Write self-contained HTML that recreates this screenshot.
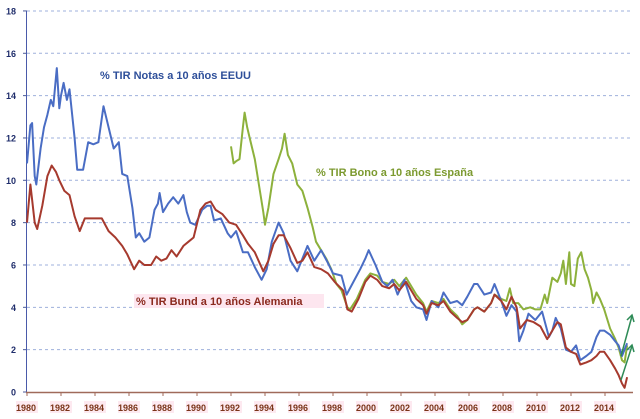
<!DOCTYPE html>
<html><head><meta charset="utf-8"><style>
body{margin:0;background:#fff}
svg{display:block;font-family:"Liberation Sans",sans-serif}
</style></head><body>
<svg id="c" width="640" height="419">
<g id="grid"></g>
<g id="yax"></g>
<g id="xax"></g>
<g id="series"></g>
<text x="100" y="79" font-size="11" font-weight="bold" fill="#2e4f9a">% TIR Notas a 10 años EEUU</text>
<text x="316" y="176" font-size="11" font-weight="bold" fill="#7c9a30">% TIR Bono a 10 años España</text>
<rect x="134" y="294" width="190" height="14" fill="#fde6ef"/>
<text x="136" y="305" font-size="11" font-weight="bold" fill="#8b2a1e">% TIR Bund a 10 años Alemania</text>
<g stroke="#2e8b57" stroke-width="1.5" fill="none">
<line x1="621" y1="356" x2="632" y2="316"/><path d="M627 320 L632 315 L634 322"/>
<line x1="621" y1="380" x2="632" y2="346"/><path d="M627 350 L632 345 L634 352"/>
</g>
</svg>
<script>
const usYears=[1980.0,1980.2,1980.3,1980.45,1980.55,1980.8,1981.0,1981.2,1981.4,1981.55,1981.75,1981.9,1982.0,1982.15,1982.35,1982.5,1982.8,1982.95,1983.3,1983.6,1983.9,1984.2,1984.5,1984.8,1985.1,1985.4,1985.6,1985.9,1986.2,1986.4,1986.6,1986.9,1987.2,1987.5,1987.7,1987.8,1988.0,1988.3,1988.6,1988.9,1989.2,1989.4,1989.6,1989.9,1990.3,1990.6,1990.8,1991.0,1991.4,1991.8,1992.0,1992.3,1992.7,1993.0,1993.4,1993.8,1994.1,1994.4,1994.8,1995.1,1995.5,1995.9,1996.2,1996.5,1996.9,1997.3,1997.7,1998.0,1998.5,1998.8,1999.2,1999.6,1999.9,2000.1,2000.5,2000.9,2001.2,2001.5,2001.8,2002.2,2002.6,2002.9,2003.3,2003.5,2003.8,2004.2,2004.5,2004.9,2005.3,2005.6,2005.9,2006.3,2006.5,2006.9,2007.3,2007.5,2007.9,2008.2,2008.5,2008.8,2008.95,2009.2,2009.5,2009.9,2010.3,2010.7,2010.9,2011.1,2011.4,2011.7,2012.0,2012.3,2012.55,2012.9,2013.2,2013.5,2013.7,2013.95,2014.3,2014.6,2014.8,2015.0,2015.1,2015.3];
const usValues=[10.8,12.6,12.7,10.2,9.8,11.5,12.5,13.1,13.8,13.5,15.3,13.4,14.0,14.6,13.8,14.3,12.0,10.5,10.5,11.8,11.7,11.8,13.5,12.5,11.5,11.8,10.3,10.2,8.7,7.3,7.5,7.1,7.3,8.6,8.9,9.4,8.5,8.9,9.2,8.9,9.3,8.5,8.0,7.9,8.6,8.8,8.8,8.1,8.2,7.5,7.3,7.6,6.6,6.6,5.9,5.3,5.8,7.1,8.0,7.5,6.2,5.7,6.3,6.9,6.2,6.7,6.1,5.6,5.5,4.6,5.2,5.8,6.3,6.7,6.0,5.2,5.0,5.3,4.6,5.3,4.3,4.0,3.9,3.4,4.3,4.0,4.7,4.2,4.3,4.1,4.5,5.1,5.1,4.6,4.7,5.1,4.3,3.6,4.1,3.8,2.4,2.9,3.7,3.4,3.8,2.6,2.9,3.5,3.0,2.0,1.9,2.2,1.5,1.7,1.9,2.6,2.9,2.9,2.7,2.4,2.2,1.7,1.9,2.3];
const deYears=[1980.0,1980.2,1980.45,1980.6,1980.9,1981.2,1981.45,1981.7,1981.9,1982.2,1982.5,1982.8,1983.1,1983.4,1983.7,1984.0,1984.4,1984.8,1985.2,1985.6,1985.9,1986.3,1986.6,1986.9,1987.3,1987.6,1987.9,1988.2,1988.5,1988.8,1989.2,1989.5,1989.8,1990.2,1990.5,1990.8,1991.1,1991.5,1991.9,1992.3,1992.7,1993.0,1993.4,1993.9,1994.2,1994.5,1994.8,1995.1,1995.5,1995.9,1996.2,1996.5,1996.9,1997.3,1997.7,1998.1,1998.6,1998.85,1999.1,1999.5,1999.9,2000.2,2000.6,2000.9,2001.3,2001.6,2001.9,2002.3,2002.6,2002.9,2003.3,2003.5,2003.8,2004.2,2004.5,2004.9,2005.3,2005.6,2005.9,2006.3,2006.5,2006.9,2007.3,2007.5,2007.9,2008.2,2008.5,2008.8,2009.0,2009.4,2009.8,2010.2,2010.6,2010.9,2011.2,2011.4,2011.7,2012.0,2012.3,2012.55,2012.9,2013.2,2013.5,2013.7,2013.95,2014.3,2014.6,2014.8,2015.0,2015.15,2015.3];
const deValues=[8.0,9.8,8.0,7.7,8.8,10.2,10.7,10.4,10.0,9.5,9.3,8.3,7.6,8.2,8.2,8.2,8.2,7.6,7.3,6.9,6.5,5.8,6.2,6.0,6.0,6.4,6.2,6.3,6.7,6.4,6.9,7.1,7.3,8.6,8.9,9.0,8.6,8.4,8.0,7.9,7.4,7.0,6.6,5.7,6.2,7.0,7.4,7.4,6.8,6.1,6.2,6.6,5.9,5.8,5.6,5.2,4.8,3.9,3.8,4.4,5.2,5.5,5.3,5.0,4.9,5.1,4.8,5.2,4.8,4.4,4.1,3.7,4.2,4.1,4.3,3.8,3.5,3.3,3.4,3.9,4.0,3.8,4.2,4.6,4.3,3.9,4.5,4.0,3.0,3.4,3.3,3.1,2.5,2.9,3.3,3.2,2.1,1.9,1.8,1.3,1.4,1.5,1.7,1.9,1.9,1.5,1.1,0.8,0.4,0.2,0.7];
const esYears=[1992.0,1992.15,1992.3,1992.5,1992.7,1992.8,1992.95,1993.1,1993.4,1993.7,1993.9,1994.0,1994.2,1994.5,1994.8,1995.0,1995.15,1995.35,1995.6,1995.9,1996.2,1996.5,1996.8,1997.0,1997.3,1997.6,1997.9,1998.2,1998.5,1998.85,1999.0,1999.4,1999.9,2000.2,2000.6,2000.9,2001.3,2001.6,2001.9,2002.3,2002.6,2002.9,2003.3,2003.5,2003.8,2004.2,2004.5,2004.9,2005.3,2005.6,2005.9,2006.3,2006.5,2006.9,2007.3,2007.5,2007.9,2008.2,2008.4,2008.6,2008.9,2009.2,2009.6,2009.9,2010.2,2010.45,2010.6,2010.9,2011.2,2011.4,2011.55,2011.7,2011.9,2012.0,2012.2,2012.4,2012.6,2012.8,2013.0,2013.2,2013.3,2013.5,2013.7,2013.95,2014.3,2014.6,2014.8,2015.0,2015.15,2015.3];
const esValues=[11.6,10.8,10.9,11.0,12.5,13.2,12.5,12.0,11.0,9.5,8.5,7.9,8.7,10.3,11.0,11.5,12.2,11.2,10.8,9.8,9.5,8.7,7.8,7.1,6.7,6.3,5.8,5.1,4.8,4.0,3.9,4.4,5.3,5.6,5.5,5.2,5.1,5.3,5.0,5.4,5.0,4.6,4.2,3.8,4.3,4.2,4.4,3.9,3.6,3.2,3.4,3.9,4.0,3.8,4.2,4.6,4.4,4.3,4.9,4.2,4.2,3.9,4.0,3.9,3.9,4.6,4.2,5.4,5.2,5.6,6.2,5.1,6.6,5.1,5.0,6.3,6.6,5.8,5.4,4.8,4.2,4.7,4.4,3.9,3.0,2.5,2.1,1.5,1.4,2.2];
const yTicks=[0,2,4,6,8,10,12,14,16,18];
const xTicks=[1980,1982,1984,1986,1988,1990,1992,1994,1996,1998,2000,2002,2004,2006,2008,2010,2012,2014];

const NS="http://www.w3.org/2000/svg";
const X=yr=>27+(yr-1980)*17;
const Y=v=>392-v*21.17;
function mk(tag,attrs,parent){const e=document.createElementNS(NS,tag);for(const k in attrs)e.setAttribute(k,attrs[k]);parent.appendChild(e);return e;}
const grid=document.getElementById('grid'),yax=document.getElementById('yax'),xax=document.getElementById('xax'),ser=document.getElementById('series');
yTicks.forEach(t=>{
  if(t>0){const g=mk('line',{x1:X(1980),x2:632,y1:Y(t),y2:Y(t),stroke:'#9fb0dc','stroke-dasharray':'3,3','stroke-width':1},grid);
  
  }
  const tk=mk('line',{x1:23,x2:27,y1:Y(t),y2:Y(t),stroke:'#4a5a9a'},yax);
  
  
  const lb=mk('text',{x:16,y:Y(t)+3.5,'font-size':9,'font-weight':'bold',fill:'#1f2d6b','text-anchor':'end'},yax);
  lb.textContent=t;
  
  
});
const ya=mk('line',{x1:26.5,x2:26.5,y1:Y(18),y2:Y(0),stroke:'#4a5aaa'},yax);


const xa=mk('line',{x1:26,x2:633,y1:Y(0)+0.5,y2:Y(0)+0.5,stroke:'#a06a5a','stroke-width':1.5},xax);


xTicks.forEach(t=>{
  const tk=mk('line',{x1:X(t),x2:X(t),y1:Y(0),y2:Y(0)+4,stroke:'#a06a5a'},xax);
  
  
  const bg=mk('rect',{x:X(t)-11,y:401,width:22,height:12,fill:'#fde9f0'},xax);
  
  
  const lb=mk('text',{x:X(t)-1,y:411,'font-size':9,'font-weight':'bold',fill:'#7a3418','text-anchor':'middle'},xax);
  lb.textContent=t;
  
  
});
function line(ys,vs,color,name){
  const d=ys.map((y,i)=>(i?'L':'M')+X(y).toFixed(1)+' '+Y(vs[i]).toFixed(1)).join(' ');
  const p=mk('path',{d:d,fill:'none',stroke:color,'stroke-width':2,'stroke-linejoin':'round'},ser);
  
  
}
line(esYears,esValues,'#8db13c','spain-line');
line(usYears,usValues,'#4a6dc4','us-line');
line(deYears,deValues,'#a63a2e','germany-line');
</script>
</body></html>
